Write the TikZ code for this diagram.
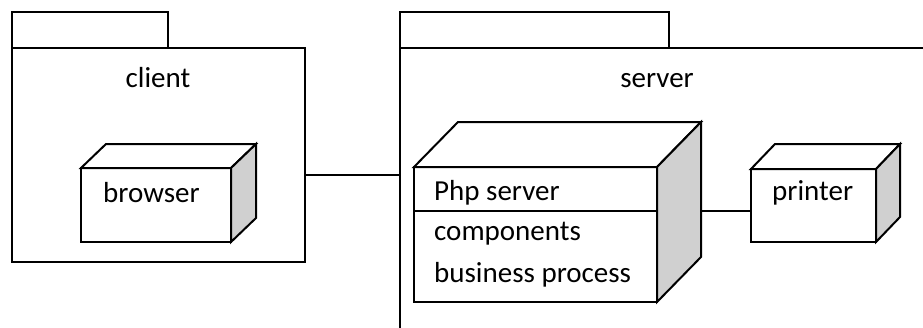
\documentclass[tikz,border=0pt]{standalone}
\usepackage{fontspec}
\setmainfont{Carlito}
\usepackage{xcolor}
\usepackage{tikz}
\definecolor{sidegray}{RGB}{208,208,208}
\tikzset{x=1pt, y=-1pt,
         every node/.style={font=\fontsize{29}{35}\selectfont},
         pkg/.style={draw, line width=2pt, inner sep=0pt, outer sep=0pt},
         cube/.style={draw, fill=white, line width=2pt, line join=miter, inner sep=0pt, outer sep=0pt},
         txt/.style={anchor=base west, inner sep=0pt},
         }
% top and right faces of a deployment node
\newcommand{\nodecube}[3]{%
  \draw[cube] (#1.north west) -- ++(#2,-#3) -- ([shift={(#2,-#3)}]#1.north east)
        -- (#1.north east) -- cycle;
  \draw[cube, fill=sidegray] (#1.north east) -- ++(#2,-#3)
        -- ([shift={(#2,-#3)}]#1.south east) -- (#1.south east) -- cycle;
}

\begin{document}
\begin{tikzpicture}
    \useasboundingbox (0,0) rectangle (923,327);
    \clip (0,0) rectangle (923,327);

    % packages
    \node[pkg, minimum width=156pt, minimum height=36pt] (clienttab) at (90,30) {};
    \node[pkg, minimum width=293pt, minimum height=214pt] (clientpkg) at (158.5,155) {};
    \node[anchor=base, inner sep=0pt] (clientname) at (158,87) {client};
    \node[pkg, minimum width=269pt, minimum height=36pt] (servertab) at (534.5,30) {};
    \node[pkg, minimum width=560pt, minimum height=312pt] (serverpkg) at (680,204) {};
    \node[anchor=base, inner sep=0pt] (servername) at (657,87) {server};

    % nodes
    \node[cube, minimum width=150pt, minimum height=74pt] (browser) at (156,205) {};
    \nodecube{browser}{25}{24}
    \node[txt] (browsertxt) at ([shift={(22,34)}]browser.north west) {browser};

    \node[cube, minimum width=243pt, minimum height=135pt] (php) at (535.5,234.5) {};
    \nodecube{php}{44}{45}
    \draw[line width=2pt] ([shift={(0,44)}]php.north west) -- ([shift={(0,44)}]php.north east);
    \node[txt] (phptxt) at ([shift={(20,33)}]php.north west) {Php server};
    \node[txt] (comptxt) at ([shift={(20,73)}]php.north west) {components};
    \node[txt] (busitxt) at ([shift={(20,115)}]php.north west) {business process};

    \node[cube, minimum width=125pt, minimum height=73pt] (printer) at (813.5,205.5) {};
    \nodecube{printer}{24}{25}
    \node[txt] (printertxt) at ([shift={(21,31)}]printer.north west) {printer};

    % links
    \coordinate (clientlink) at ([shift={(0,20)}]clientpkg.east);
    \draw[line width=2pt] (clientlink) -- (clientlink -| serverpkg.west);
    \coordinate (phplink) at ([shift={(44,44)}]php.north east);
    \draw[line width=2pt] (phplink) -- (phplink -| printer.west);
\end{tikzpicture}
\end{document}
